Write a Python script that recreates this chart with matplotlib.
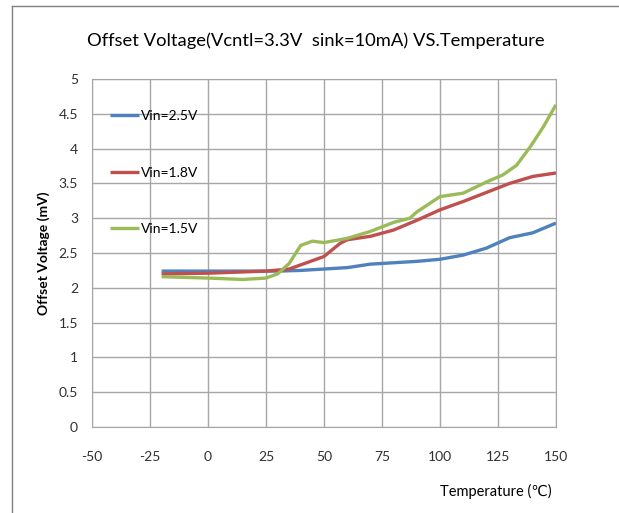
import numpy as np
import matplotlib
matplotlib.use("Agg")
import matplotlib.pyplot as plt
from matplotlib.lines import Line2D

plt.rcParams['font.family'] = ['Lato', 'DejaVu Sans']
plt.rcParams['axes.unicode_minus'] = False

# temperatures (C) and offset voltage (mV)
t_25 = [-20, 0, 20, 30, 40, 50, 60, 70, 80, 90, 100, 110, 120, 130, 140, 150]
v_25 = [2.24, 2.24, 2.24, 2.24, 2.25, 2.27, 2.29, 2.34, 2.36, 2.38, 2.41, 2.47, 2.57, 2.72, 2.79, 2.93]

t_18 = [-20, 0, 25, 35, 40, 50, 57, 60, 70, 80, 90, 100, 110, 120, 130, 140, 150]
v_18 = [2.20, 2.21, 2.24, 2.27, 2.33, 2.45, 2.64, 2.69, 2.74, 2.83, 2.97, 3.12, 3.24, 3.37, 3.50, 3.60, 3.65]

t_15 = [-20, 0, 15, 25, 30, 35, 40, 45, 50, 60, 70, 80, 87, 90, 100, 110, 120, 127, 133, 139, 144.5, 150]
v_15 = [2.16, 2.14, 2.12, 2.14, 2.20, 2.35, 2.61, 2.67, 2.65, 2.71, 2.81, 2.94, 3.00, 3.09, 3.31, 3.36, 3.52, 3.62, 3.76, 4.03, 4.31, 4.63]

labels = ['Vin=2.5V', 'Vin=1.8V', 'Vin=1.5V']
colors = ['#4F81BD', '#C0504D', '#9BBB59']

fig = plt.figure(figsize=(6.19, 5.13), dpi=100)
ax = fig.add_axes([0.1486, 0.1676, 0.7496, 0.6784])

for t, v, lab, c in zip([t_25, t_18, t_15], [v_25, v_18, v_15], labels, colors):
    ax.plot(t, v, color=c, linewidth=2.4, label=lab, solid_capstyle='butt')

ax.set_xlim(-50, 150)
ax.set_ylim(0, 5)
ax.set_xticks(np.arange(-50, 151, 25))
ax.set_yticks(np.arange(0, 5.01, 0.5))
ax.set_yticklabels(['0', '0.5', '1', '1.5', '2', '2.5', '3', '3.5', '4', '4.5', '5'])
ax.grid(True, color='#a6a6a6', linewidth=1)
ax.set_axisbelow(True)
for s in ax.spines.values():
    s.set_color('#a6a6a6')
ax.tick_params(length=0, labelsize=10, colors='#303030')
ax.tick_params(axis='x', pad=17)
ax.tick_params(axis='y', pad=10)

ax.set_title('Offset Voltage(Vcntl=3.3V  sink=10mA) VS.Temperature', fontsize=13.2, pad=24, x=0.483)
ax.set_ylabel('Offset Voltage (mV)', fontsize=10, fontweight='bold', labelpad=6)
ax.set_xlabel('Temperature (℃)', fontsize=10.5, x=0.87, labelpad=15)

ax.legend(loc='upper left', bbox_to_anchor=(0.039, 0.91), frameon=False, fontsize=10,
          labelspacing=3.2, handlelength=2.1, handletextpad=0.1,
          borderaxespad=0, borderpad=0)

# outer chart frame (left and top edges visible)
fig.add_artist(Line2D([12/619, 12/619], [0, 1 - 6/513], color='#808080', linewidth=1))
fig.add_artist(Line2D([12/619, 1], [1 - 6/513, 1 - 6/513], color='#808080', linewidth=1))

fig.savefig('out.png', dpi=100)
